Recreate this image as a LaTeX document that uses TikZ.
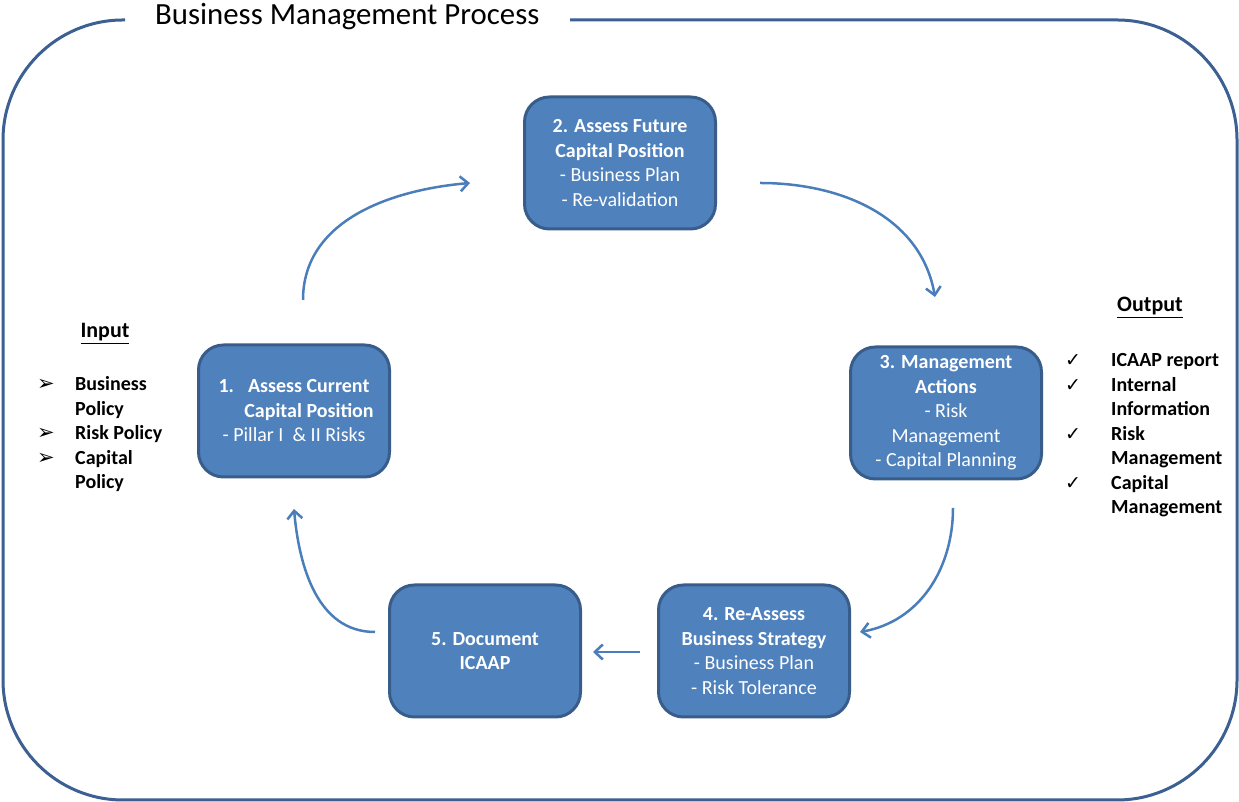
\documentclass[tikz,border=0pt]{standalone}
\usepackage{fontspec}
\setmainfont{Carlito}
\newfontfamily\symbolFont{DejaVu Sans}
\usepackage{tikz}
\usetikzlibrary{arrows.meta}
\definecolor{boxFill}{RGB}{79,129,189}
\definecolor{boxBorder}{RGB}{56,93,138}
\definecolor{frameColor}{RGB}{59,96,145}
\definecolor{arrowColor}{RGB}{74,126,187}
\newcommand{\boxFont}{\fontsize{20}{24.5}\selectfont}
\newcommand{\listFont}{\fontsize{20}{24.5}\selectfont\bfseries}
\tikzstyle{stepBox} = [draw=boxBorder, fill=boxFill, line width=3pt, rounded corners=25pt, minimum width=191pt, minimum height=132pt, text=white, align=center, font=\boxFont, inner sep=0pt]
\tikzstyle{cycleArrow} = [draw=arrowColor, line width=2.5pt, -{Straight Barb[length=8pt,width=15pt]}]
\tikzstyle{frameLine} = [draw=frameColor, line width=3pt, rounded corners=120pt]
\tikzstyle{headText} = [font=\fontsize{22}{26}\selectfont\bfseries, anchor=base, inner sep=0pt]
\tikzstyle{listText} = [font=\listFont, anchor=base west, inner sep=0pt]
\newcommand{\stepNode}[3]{\node [stepBox] (#1) at #2 {#3};}
\newcommand{\arrowBullet}{{\symbolFont\fontsize{21}{21}\selectfont ➢}}
\newcommand{\checkBullet}{{\symbolFont\fontsize{19}{19}\selectfont ✓}}

\begin{document}
\begin{tikzpicture}[x=1pt, y=1pt]
  \useasboundingbox (0,0) rectangle (1239,802);

  % frame and title
  \draw [frameLine] (570,782) -- (1237,782) -- (1237,2) -- (3,2) -- (3,782) -- (125,782);
  \node [anchor=base west, inner sep=0pt, font=\fontsize{30.8}{36}\selectfont] (title) at (155,777) {Business Management Process};

  % the five steps
  \stepNode{stepTwo}{(620,639)}{\textbf{2. Assess Future}\\\textbf{Capital Position}\\- Business Plan\\- Re-validation}
  \stepNode{stepOne}{(294,391)}{\textbf{1.\hspace{14pt}Assess Current}\\\hspace*{30pt}\textbf{Capital Position}\\- Pillar I \ \& II Risks}
  \stepNode{stepThree}{(946,389)}{\textbf{3. Management}\\\textbf{Actions}\\- Risk\\Management\\- Capital Planning}
  \stepNode{stepFour}{(754,151)}{\textbf{4. Re-Assess}\\\textbf{Business Strategy}\\- Business Plan\\- Risk Tolerance}
  \stepNode{stepFive}{(485,151)}{\textbf{5. Document}\\\textbf{ICAAP}}

  % arrow ends
  \coordinate (oneOut) at (303,502);
  \coordinate (twoIn) at (470,619);
  \coordinate (twoOut) at (760,619);
  \coordinate (threeIn) at (935,505);
  \coordinate (threeOut) at (953,294);
  \coordinate (fourIn) at (860,170);
  \coordinate (fourOut) at (640,150);
  \coordinate (fiveIn) at (593,150);
  \coordinate (fiveOut) at (375,170);
  \coordinate (oneIn) at (294,293);

  \draw [cycleArrow] (oneOut) to [out=90, in=185] (twoIn);
  \draw [cycleArrow] (twoOut) to [out=0, in=100] (threeIn);
  \draw [cycleArrow] (threeOut) to [out=-90, in=10] (fourIn);
  \draw [cycleArrow] (fourOut) -- (fiveIn);
  \draw [cycleArrow] (fiveOut) to [out=180, in=-85] (oneIn);

  % input
  \node [headText] (inputHead) at (105,464) {\underline{Input}};
  \node [listText] (inputList) at (37,411) {\begin{tabular}[t]{@{}p{38pt}@{}l@{}}
    \arrowBullet & Business\\
                 & Policy\\
    \arrowBullet & Risk Policy\\
    \arrowBullet & Capital\\
                 & Policy
  \end{tabular}};

  % output
  \node [headText] (outputHead) at (1150,490) {\underline{Output}};
  \node [listText] (outputList) at (1065,435) {\begin{tabular}[t]{@{}p{46pt}@{}l@{}}
    \checkBullet & ICAAP report\\
    \checkBullet & Internal\\
                 & Information\\
    \checkBullet & Risk\\
                 & Management\\
    \checkBullet & Capital\\
                 & Management
  \end{tabular}};
\end{tikzpicture}
\end{document}
